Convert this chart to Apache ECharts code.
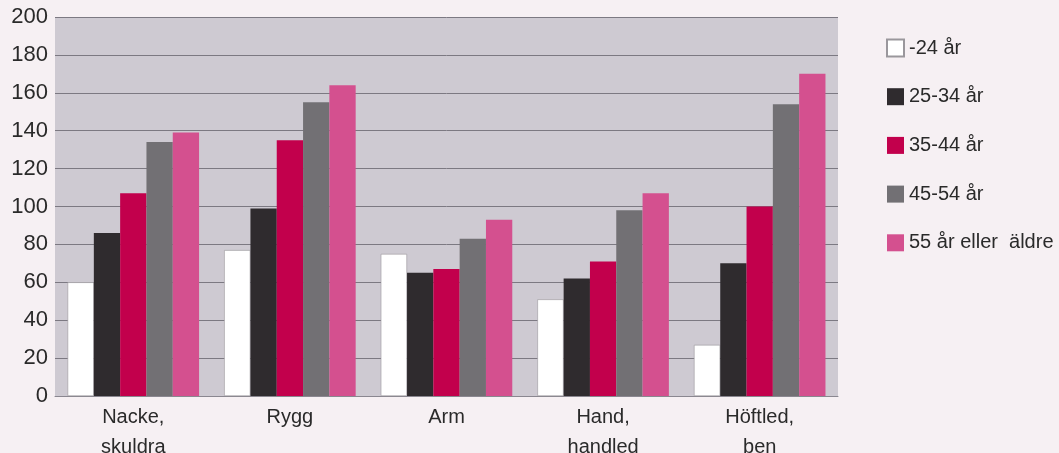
<!DOCTYPE html>
<html>
<head>
<meta charset="utf-8">
<script src="https://cdn.jsdelivr.net/npm/echarts@6/dist/echarts.min.js"></script>
<style>
html,body{margin:0;padding:0;background:#f6f0f3;}
#c{width:1059px;height:453px;}
</style>
</head>
<body>
<div id="c"></div>
<script>
const categories = ["Nacke,\nskuldra", "Rygg", "Arm", "Hand,\nhandled", "Höftled,\nben"];
const seriesNames = ["-24 år", "25-34 år", "35-44 år", "45-54 år", "55 år eller  äldre"];
const age24 = [60, 77, 75, 51, 27];
const age25_34 = [86, 99, 65, 62, 70];
const age35_44 = [107, 135, 67, 71, 100];
const age45_54 = [134, 155, 83, 98, 154];
const age55 = [139, 164, 93, 107, 170];
const yTicks = [0, 20, 40, 60, 80, 100, 120, 140, 160, 180, 200];

const colors = ["#ffffff", "#2f2b2e", "#c2004c", "#727074", "#d4508f"];
const values = [age24, age25_34, age35_44, age45_54, age55];

const chart = echarts.init(document.getElementById('c'));
chart.setOption({
  backgroundColor: '#f6f0f3',
  animation: false,
  grid: {left: 55, right: 221, top: 17, bottom: 57, show: true, backgroundColor: '#cecad2', borderWidth: 0, containLabel: false, outerBoundsMode: 'none'},
  legend: {
    orient: 'vertical', left: 881, top: 33, itemWidth: 17, itemHeight: 17, itemGap: 28.7,
    icon: 'rect',
    textStyle: {fontFamily: 'Liberation Sans, Arial', fontSize: 20, color: '#2a2a2a'},
    data: seriesNames
  },
  xAxis: {
    type: 'category', data: categories,
    axisLine: {lineStyle: {color: '#8a8790', width: 1}},
    axisTick: {show: false},
    axisLabel: {fontFamily: 'Liberation Sans, Arial', fontSize: 20, color: '#2a2a2a', lineHeight: 30, margin: 6, interval: 0}
  },
  yAxis: {
    type: 'value', min: yTicks[0], max: yTicks[yTicks.length - 1], interval: 20,
    axisLine: {show: false}, axisTick: {show: false},
    splitLine: {lineStyle: {color: '#7c7982', width: 1}},
    axisLabel: {fontFamily: 'Liberation Sans, Arial', fontSize: 22, color: '#2a2a2a', margin: 7}
  },
  series: seriesNames.map((n, i) => ({
    name: n, type: 'bar', data: values[i],
    barGap: '0%', barCategoryGap: '16%',
    itemStyle: {color: colors[i], borderColor: i === 0 ? '#9a979c' : colors[i], borderWidth: i === 0 ? 0.6 : 0}
  }))
});
</script>
</body>
</html>
